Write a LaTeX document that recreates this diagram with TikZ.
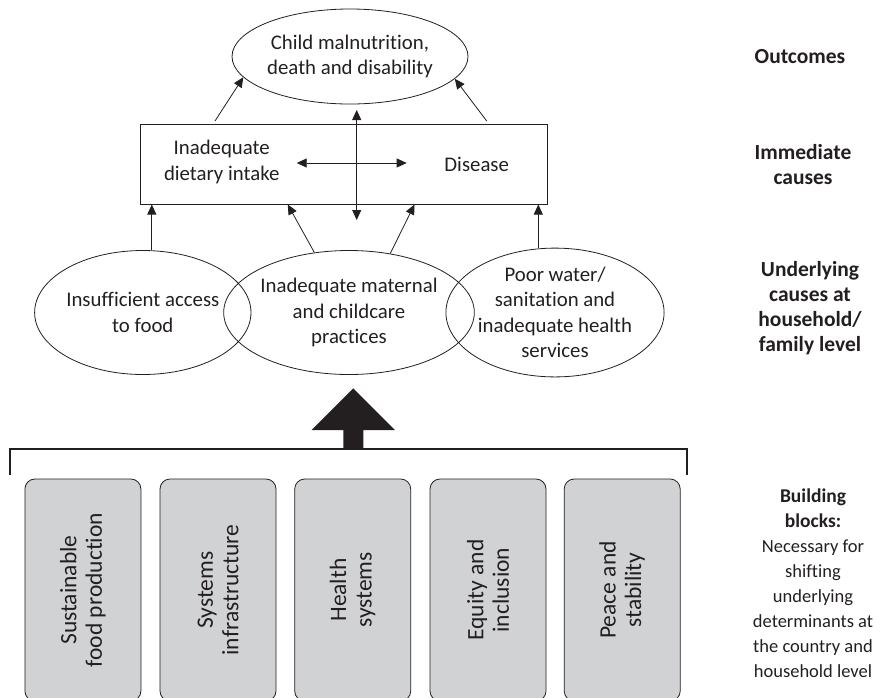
\documentclass[tikz,border=0pt]{standalone}
\usepackage{fontspec}
\setmainfont{Carlito}[Ligatures=NoCommon]
\usetikzlibrary{arrows.meta,shapes.geometric,calc}
\definecolor{ink}{HTML}{231F20}
\definecolor{boxgray}{HTML}{D1D2D4}
\tikzset{
  txt/.style={font=\fontsize{20.8}{25.5}\selectfont, text=ink, align=center, inner sep=0pt},
  ell/.style={ellipse, draw=ink, line width=0.8pt, inner sep=0pt, txt},
  arr/.style={draw=ink, line width=0.8pt, -{Triangle[length=10pt,width=9pt]}},
  darr/.style={draw=ink, line width=0.8pt, {Triangle[length=10pt,width=9pt]}-{Triangle[length=10pt,width=9pt]}},
  bb/.style={draw=ink, fill=boxgray, line width=0.8pt, rounded corners=10pt, rotate=90,
    minimum width=222pt, minimum height=116pt, inner sep=0pt, text=ink, align=center,
    font=\fontsize{23.5}{25.5}\selectfont},
  lbl/.style={font=\fontsize{21.5}{25}\selectfont\bfseries, text=ink, align=center, inner sep=0pt},
  rtxt/.style={font=\fontsize{18.5}{25}\selectfont, text=ink, align=center, inner sep=0pt},
}
\begin{document}
\begin{tikzpicture}[x=1pt,y=-1pt]
\useasboundingbox (0,0) rectangle (882,697);
\clip (0,0) rectangle (882,697);

% outcome
\node[ell, minimum width=236pt, minimum height=95pt] (top) at (350,56.5)
  {Child malnutrition,\\death and disability};

% immediate causes box
\node[draw=ink, line width=1pt, minimum width=406.7pt, minimum height=80pt, inner sep=0pt] (rect) at (344.3,164) {};
\node[txt] (diet) at (221.7,162) {Inadequate\\dietary intake};
\node[txt] (dis) at (476.7,164) {Disease};

% underlying
\node[ell, minimum width=211pt, minimum height=124pt] (L) at (142.8,312.5) {Insufficient access\\to food};
\node[ell, minimum width=208pt, minimum height=124pt] (M) at (349,312.5) {Inadequate maternal\\and childcare\\practices};
\node[ell, minimum width=213pt, minimum height=125pt] (R) at (555,312.5) {Poor water/\\sanitation and\\inadequate health\\services};

% arrows rect -> top
\coordinate (r1) at (215,121);
\coordinate (r2) at (486.7,121);
\draw[arr] (r1) -- (top.191);
\draw[arr] (r2) -- (top.-12);

% cross arrows
\coordinate (h1) at (296.7,163);
\coordinate (h2) at (406.7,163);
\draw[darr] (h1) -- (h2);
\coordinate (v1) at (356.7,110);
\coordinate (v2) at (356.7,220);
\draw[darr] (v1) -- (v2);

% underlying -> rect
\draw[arr] ([xshift=9pt]L.north) -- ([xshift=9pt]L.north |- rect.south);
\draw[arr] ([xshift=-16.7pt]R.north) -- ([xshift=-16.7pt]R.north |- rect.south);
\draw[arr] (M.120) -- ($(rect.south west)+(147.3,0)$);
\draw[arr] (M.55) -- ($(rect.south west)+(274,0)$);

% big arrow
\coordinate (tip) at (353.3,388.3);
\fill[ink] (343.3,449) -- (343.3,430) -- (311.7,430) -- (tip) -- (395,430) -- (363.3,430) -- (363.3,449) -- cycle;

% bracket
\draw[ink, line width=2pt] (10,475) -- (10,449) -- (686.7,449) -- (686.7,475);

% building blocks
\node[bb] (b1) at (82.9,590) {Sustainable\\food production};
\node[bb] (b2) at (218,590) {Systems\\infrastructure};
\node[bb] (b3) at (352.7,590) {Health\\systems};
\node[bb] (b4) at (488,590) {Equity and\\inclusion};
\node[bb] (b5) at (622.2,590) {Peace and\\stability};

% right labels
\node[lbl] (l1) at (800,56.7) {Outcomes};
\node[lbl] (l2) at (803,165) {Immediate\\causes};
\node[lbl] (l3) at (810,308) {Underlying\\causes at\\household/\\family level};
\node[rtxt] (l4) at (813,583) {{\fontsize{19.5}{25}\selectfont\bfseries Building}\\{\fontsize{19.5}{25}\selectfont\bfseries blocks:}\\Necessary for\\shifting\\underlying\\determinants at\\the country and\\household level};
\end{tikzpicture}
\end{document}
